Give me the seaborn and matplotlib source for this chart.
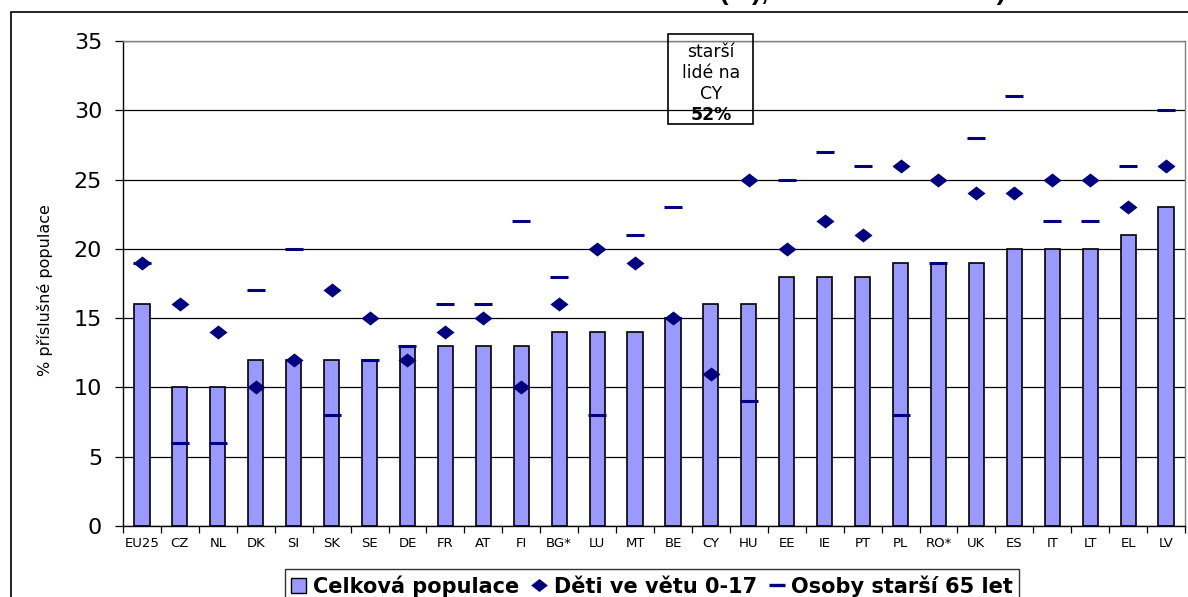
import numpy as np
import pandas as pd
import matplotlib
matplotlib.use("Agg")
import matplotlib.pyplot as plt
from matplotlib.patches import Rectangle, Patch
from matplotlib.lines import Line2D
import seaborn as sns

# At-risk-of-poverty rates (%) by age group
countries = ["EU25", "CZ", "NL", "DK", "SI", "SK", "SE", "DE", "FR", "AT",
             "FI", "BG*", "LU", "MT", "BE", "CY", "HU", "EE", "IE", "PT",
             "PL", "RO*", "UK", "ES", "IT", "LT", "EL", "LV"]
total = [16, 10, 10, 12, 12, 12, 12, 13, 13, 13,
         13, 14, 14, 14, 15, 16, 16, 18, 18, 18,
         19, 19, 19, 20, 20, 20, 21, 23]
children = [19, 16, 14, 10, 12, 17, 15, 12, 14, 15,
            10, 16, 20, 19, 15, 11, 25, 20, 22, 21,
            26, 25, 24, 24, 25, 25, 23, 26]
elderly = [19, 6, 6, 17, 20, 8, 12, 13, 16, 16,
           22, 18, 8, 21, 23, 52, 9, 25, 27, 26,
           8, 19, 28, 31, 22, 22, 26, 30]

series_labels = ["Celková populace", "Děti ve větu 0-17", "Osoby starší 65 let"]
y_label = "% příslušné populace"
title = "Ohrožení chudobou dle věku (%), EU25 – SILC 2005)"

BAR = "#9999FF"
NAVY = "#000080"
# flat diamond: wider than tall
DIAMOND = [(-1, 0), (0, 0.78), (1, 0), (0, -0.78), (-1, 0)]

sns.set_theme(style="white")
plt.rcParams["font.family"] = ["DejaVu Sans"]
plt.rcParams["text.color"] = "black"

df = pd.DataFrame({"country": countries, "total": total,
                   "children": children, "elderly": elderly})

W, H = 1188, 597
fig = plt.figure(figsize=(W / 100, H / 100), dpi=100)
ax = fig.add_axes([123 / W, 1 - 526 / H, (1185 - 123) / W, (526 - 41) / H])

sns.barplot(data=df, x="country", y="total", color=BAR, saturation=1,
            width=0.4, edgecolor="black", linewidth=1.2, ax=ax, zorder=2)
sns.pointplot(data=df, x="country", y="elderly", color=NAVY, errorbar=None,
              linestyle="none", marker="_", markersize=12.5,
              markeredgewidth=2.2, ax=ax, zorder=3)
sns.pointplot(data=df, x="country", y="children", color=NAVY, errorbar=None,
              linestyle="none", marker=DIAMOND, markersize=13,
              markeredgewidth=0, ax=ax, zorder=4)

ax.set_xlim(-0.5, len(countries) - 0.5)
ax.set_ylim(0, 35)
ax.set_yticks(np.arange(0, 36, 5))
ax.yaxis.grid(True, color="black", linewidth=0.9)
ax.xaxis.grid(False)
ax.set_axisbelow(True)

ax.set_xlabel("")
ax.set_ylabel(y_label, fontsize=11.5, color="black")
ax.yaxis.set_label_coords(-0.066, 0.487)

ax.tick_params(axis="y", which="major", direction="out", length=6, width=0.9,
               color="black", labelsize=16, pad=9, labelcolor="black", left=True)
ax.tick_params(axis="x", which="major", length=0, labelsize=9.5, pad=8,
               labelcolor="black")
ax.set_xticks(np.arange(-0.5, len(countries), 1), minor=True)
ax.tick_params(axis="x", which="minor", direction="out", length=5, width=0.9,
               color="black", bottom=True)

for side in ("left", "bottom"):
    ax.spines[side].set_color("black")
    ax.spines[side].set_linewidth(1.0)
for side in ("top", "right"):
    ax.spines[side].set_color("#808080")
    ax.spines[side].set_linewidth(1.0)

# Call-out for the elderly rate in Cyprus, which lies above the axis range
cy = countries.index("CY")
box = Rectangle((cy - 1.12, 29.0), 2.24, 6.5, fill=False, edgecolor="black",
                linewidth=1.2, clip_on=False, zorder=6)
ax.add_patch(box)
for i, line in enumerate(["starší", "lidé na", "CY"]):
    ax.text(cy, 34.2 - i * 1.52, line, ha="center", va="center", fontsize=12.4,
            color="black", clip_on=False, zorder=7)
ax.text(cy, 34.2 - 3 * 1.52, f"{elderly[cy]}%", ha="center", va="center",
        fontsize=12.4, fontweight="bold", color="black", clip_on=False, zorder=7)

# Outer chart frame
fig.patches.append(Rectangle((11 / W, -0.5), 2, (1 - 12 / H) + 0.5,
                             transform=fig.transFigure, fill=False,
                             edgecolor="black", linewidth=1.2))

fig.text(1006 / W, 1.0, title, ha="right", va="baseline", fontsize=19,
         fontweight="bold", color="black", family="Liberation Sans")

handles = [
    Patch(facecolor=BAR, edgecolor="black", linewidth=1.0),
    Line2D([], [], color=NAVY, marker=DIAMOND, linestyle="none",
           markersize=12, markeredgewidth=0),
    Line2D([], [], color=NAVY, marker="_", linestyle="none",
           markersize=12, markeredgewidth=2.4),
]
leg = fig.legend(handles, series_labels, loc="upper left",
                 bbox_to_anchor=(285 / W, 1 - 569 / H),
                 ncol=3, frameon=True, fancybox=False, edgecolor="black",
                 prop={"weight": "bold", "size": 15},
                 handlelength=0.7, handleheight=0.7, handletextpad=0.35,
                 columnspacing=0.6, borderpad=0.3, borderaxespad=0)
leg.get_frame().set_linewidth(1.0)
for t in leg.get_texts():
    t.set_color("black")

fig.savefig("out.png", dpi=100)
